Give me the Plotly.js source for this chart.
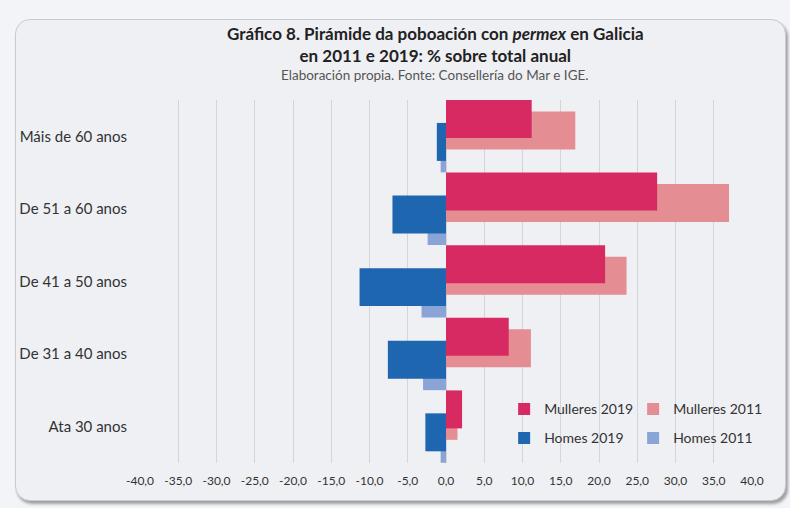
<!DOCTYPE html>
<html>
<head>
<meta charset="utf-8">
<script src="https://cdn.plot.ly/plotly-3.0.1.min.js"></script>
<style>
  html, body { margin: 0; padding: 0; width: 790px; height: 508px; overflow: hidden; background: #f3f4f7; }
  #frame { position: absolute; left: 15px; top: 19px; width: 769px; height: 480px;
           border: 1px solid #c9cbd0; border-radius: 15px; background: #eff0f4;
           box-shadow: 2px 3px 3px rgba(0,0,0,0.35); }
  #chart { position: absolute; left: 0; top: 0; width: 790px; height: 508px; }
</style>
</head>
<body>
<div id="frame"></div>
<div id="chart"></div>
<script>
  const categories = ["Máis de 60 anos", "De 51 a 60 anos", "De 41 a 50 anos", "De 31 a 40 anos", "Ata 30 anos"];
  const mulleres2019 = [11.2, 27.6, 20.8, 8.2, 2.1];
  const mulleres2011 = [16.9, 37.0, 23.6, 11.1, 1.5];
  const homes2019 = [-1.2, -7.0, -11.3, -7.6, -2.7];
  const homes2011 = [-0.7, -2.4, -3.2, -3.0, -0.7];
  const tickValues = [-40, -35, -30, -25, -20, -15, -10, -5, 0, 5, 10, 15, 20, 25, 30, 35, 40];
  const tickLabels = ["-40,0", "-35,0", "-30,0", "-25,0", "-20,0", "-15,0", "-10,0", "-5,0", "0,0", "5,0", "10,0", "15,0", "20,0", "25,0", "30,0", "35,0", "40,0"];

  const W = 0.523, STEP = 0.158;
  function bar(name, x, color, k, legend) {
    return { type: 'bar', orientation: 'h', name: name, x: x, y: categories,
             marker: { color: color }, width: W, offset: -0.5 + k * STEP,
             legend: legend, hoverinfo: 'x+name' };
  }
  const traces = [
    bar('Mulleres 2011', mulleres2011, '#e48e93', 1, 'legend'),
    bar('Mulleres 2019', mulleres2019, '#d82a62', 0, 'legend'),
    bar('Homes 2011', homes2011, '#8aa4d8', 3, 'legend2'),
    bar('Homes 2019', homes2019, '#1f66b0', 2, 'legend2')
  ];
  const font = 'Lato, "Open Sans", sans-serif';
  const legendCommon = { orientation: 'h', x: 0.595, xanchor: 'left', yanchor: 'middle',
              bgcolor: 'rgba(0,0,0,0)', font: { size: 14, color: '#333' }, entrywidth: 84,
              traceorder: 'reversed', itemclick: false };
  const layout = {
    width: 790, height: 508,
    paper_bgcolor: 'rgba(0,0,0,0)', plot_bgcolor: 'rgba(0,0,0,0)',
    margin: { l: 140, r: 38, t: 100, b: 45 },
    barmode: 'overlay',
    font: { family: font, color: '#333', size: 13 },
    title: { text: '<b>Gráfico 8. Pirámide da poboación con <i>permex</i> en Galicia<br>en 2011 e 2019: % sobre total anual</b>',
             font: { size: 17, color: '#222', family: font }, x: 0.551, xanchor: 'center', xref: 'container',
             y: 0.922, yref: 'container', yanchor: 'top' },
    annotations: [{ text: 'Elaboración propia. Fonte: Consellería do Mar e IGE.', xref: 'paper', yref: 'paper',
                    x: 0.482, y: 1, yshift: 25, xanchor: 'center', yanchor: 'middle', showarrow: false,
                    font: { size: 13.5, color: '#555', family: font } }],
    xaxis: { range: [-40, 40], tickvals: tickValues, ticktext: tickLabels, showgrid: true,
             gridcolor: '#d3d5da', gridwidth: 1, zeroline: false, showline: false, ticks: '',
             ticklabelstandoff: 9, tickfont: { size: 12, color: '#333' }, fixedrange: true },
    yaxis: { type: 'category', range: [4.5, -0.5], showgrid: false, zeroline: false, ticks: '',
             ticklabelstandoff: 12, tickfont: { size: 15, color: '#333' }, fixedrange: true },
    legend: Object.assign({}, legendCommon, { y: 0.148 }),
    legend2: Object.assign({}, legendCommon, { y: 0.068 }),
    showlegend: true
  };
  Plotly.newPlot('chart', traces, layout, { displayModeBar: false, staticPlot: true });
</script>
</body>
</html>
